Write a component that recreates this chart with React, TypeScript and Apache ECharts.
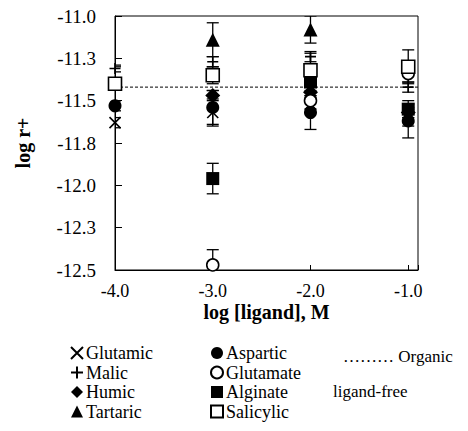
import React, { useEffect, useRef } from "react";
import * as echarts from "echarts";

const xValues = [-4, -3, -2, -1];
const yTickMin = -12.5;
const yTickMax = -11.0;
const baselineValue = -11.42;

const glutamic = [-11.63, -11.57, -11.52, -11.6];
const malic = [-11.31, -11.27, -11.24, -11.42];
const humic = [null, -11.47, -11.45, -11.57];
const tartaric = [null, -11.14, -11.08, null];
const aspartic = [-11.53, -11.54, -11.57, -11.62];
const glutamate = [null, -12.47, -11.5, -11.34];
const alginate = [null, -11.96, -11.39, -11.55];
const salicylic = [-11.4, -11.35, -11.32, -11.3];

const glutamicErr = [0.03, 0.08, 0.05, 0.05];
const malicErr = [0.02, 0.03, 0.03, 0.03];
const humicErr = [0.03, 0.03, 0.03, 0.03];
const tartaricErr = [0, 0.1, 0.08, 0];
const asparticErr = [0.03, 0.1, 0.1, 0.1];
const glutamateErr = [0, 0.09, 0.05, 0.05];
const alginateErr = [0, 0.09, 0.05, 0.05];
const salicylicErr = [0.1, 0.05, 0.1, 0.1];

const FONT = "Liberation Serif";

const seriesDefs = [
  { name: "Glutamic", values: glutamic, errs: glutamicErr, symbol: "path://M0,0L10,10M10,0L0,10", size: 11, fill: "rgba(0,0,0,0)", border: 1.6 },
  { name: "Malic", values: malic, errs: malicErr, symbol: "path://M5,0L5,10M0,5L10,5", size: 11, fill: "rgba(0,0,0,0)", border: 1.6 },
  { name: "Humic", values: humic, errs: humicErr, symbol: "diamond", size: [15, 15], fill: "#000", border: 0 },
  { name: "Tartaric", values: tartaric, errs: tartaricErr, symbol: "triangle", size: 14, fill: "#000", border: 0 },
  { name: "Aspartic", values: aspartic, errs: asparticErr, symbol: "circle", size: 13, fill: "#000", border: 0 },
  { name: "Glutamate", values: glutamate, errs: glutamateErr, symbol: "circle", size: 12, fill: "#fff", border: 1.6 },
  { name: "Alginate", values: alginate, errs: alginateErr, symbol: "rect", size: 13, fill: "#000", border: 0 },
  { name: "Salicylic", values: salicylic, errs: salicylicErr, symbol: "rect", size: 13, fill: "#fff", border: 1.6 },
];

export default function App() {
  const ref = useRef<HTMLDivElement>(null);
  useEffect(() => {
    if (!ref.current) return;
    const chart = echarts.init(ref.current, undefined, { renderer: "svg" });

    const errData: number[][] = [];
    seriesDefs.forEach((s) => {
      s.values.forEach((v, i) => {
        if (v !== null && s.errs[i] > 0) errData.push([xValues[i], v as number, s.errs[i]]);
      });
    });

    const scatterSeries = seriesDefs.map((s) => ({
      name: s.name,
      type: "scatter",
      symbol: s.symbol,
      symbolSize: s.size,
      z: 3,
      itemStyle: {
        color: s.fill,
        borderColor: "#000",
        borderWidth: s.border,
        opacity: 1,
      },
      data: s.values
        .map((v, i) => (v === null ? null : [xValues[i], v]))
        .filter((d) => d !== null),
    }));

    const legendCommon = {
      orient: "vertical",
      itemWidth: 12,
      itemHeight: 12,
      itemGap: 1.5,
      selectedMode: false,
      textStyle: { fontFamily: FONT, fontSize: 18, color: "#000", lineHeight: 18, padding: [0, 0, 0, -2] },
      padding: 0,
    };

    chart.setOption({
      animation: false,
      textStyle: { fontFamily: FONT },
      grid: {
        left: 115,
        right: 50,
        top: 16,
        bottom: 161,
        show: true,
        borderColor: "#000",
        borderWidth: 1,
        backgroundColor: "transparent",
      },
      xAxis: {
        type: "value",
        min: -4,
        max: -0.9,
        interval: 1,
        name: "log [ligand], M",
        nameLocation: "middle",
        nameGap: 32,
        nameMoveOverlap: false,
        nameTextStyle: { fontFamily: FONT, fontSize: 20, fontWeight: "bold", color: "#000", lineHeight: 20 },
        axisLine: { lineStyle: { color: "#000", width: 1 } },
        axisTick: { inside: true, length: 5, lineStyle: { color: "#000" } },
        axisLabel: {
          fontFamily: FONT,
          fontSize: 18,
          lineHeight: 18,
          color: "#000",
          margin: 12,
          formatter: (v: number) => (Math.abs(v - Math.round(v)) < 1e-6 ? v.toFixed(1) : ""),
        },
        splitLine: { show: false },
      },
      yAxis: {
        type: "value",
        min: yTickMin,
        max: yTickMax,
        interval: 0.25,
        name: "log r+",
        nameLocation: "middle",
        nameGap: 82,
        nameMoveOverlap: false,
        nameTextStyle: { fontFamily: FONT, fontSize: 20, fontWeight: "bold", color: "#000" },
        axisLine: { lineStyle: { color: "#000", width: 1 } },
        axisTick: { inside: true, length: 7, lineStyle: { color: "#000" } },
        axisLabel: {
          fontFamily: FONT,
          fontSize: 19,
          color: "#000",
          margin: 19,
          formatter: (v: number) => v.toFixed(1),
        },
        splitLine: { show: false },
      },
      legend: [
        { ...legendCommon, left: 70, top: 344, data: ["Glutamic", "Malic", "Humic", "Tartaric"] },
        { ...legendCommon, left: 210, top: 344, data: ["Aspartic", "Glutamate", "Alginate", "Salicylic"] },
      ],
      graphic: [
        {
          type: "text",
          left: 343,
          top: 348,
          style: { text: "……… Organic", fontFamily: FONT, fontSize: 17, fill: "#000" },
        },
        {
          type: "text",
          left: 333,
          top: 383,
          style: { text: "ligand-free", fontFamily: FONT, fontSize: 17, fill: "#000" },
        },
      ],
      series: [
        {
          name: "Organic ligand-free",
          type: "line",
          data: [
            [-4, baselineValue],
            [-0.9, baselineValue],
          ],
          symbol: "none",
          z: 1,
          lineStyle: { color: "#000", width: 1, type: [3, 2] },
        },
        {
          name: "errors",
          type: "custom",
          clip: true,
          z: 2,
          encode: { x: 0, y: 1 },
          data: errData,
          renderItem: (params: any, api: any) => {
            const x = api.value(0);
            const y = api.value(1);
            const e = api.value(2);
            const top = api.coord([x, y + e]);
            const bot = api.coord([x, y - e]);
            const hw = 6;
            const st = { stroke: "#000", lineWidth: 1.3 };
            return {
              type: "group",
              children: [
                { type: "line", shape: { x1: top[0], y1: top[1], x2: bot[0], y2: bot[1] }, style: st },
                { type: "line", shape: { x1: top[0] - hw, y1: top[1], x2: top[0] + hw, y2: top[1] }, style: st },
                { type: "line", shape: { x1: bot[0] - hw, y1: bot[1], x2: bot[0] + hw, y2: bot[1] }, style: st },
              ],
            };
          },
        },
        ...scatterSeries,
      ],
    });
    return () => chart.dispose();
  }, []);
  return (
    <div
      ref={ref}
      style={{ position: "fixed", left: 0, top: 0, width: 468, height: 431, background: "#fff" }}
    />
  );
}
